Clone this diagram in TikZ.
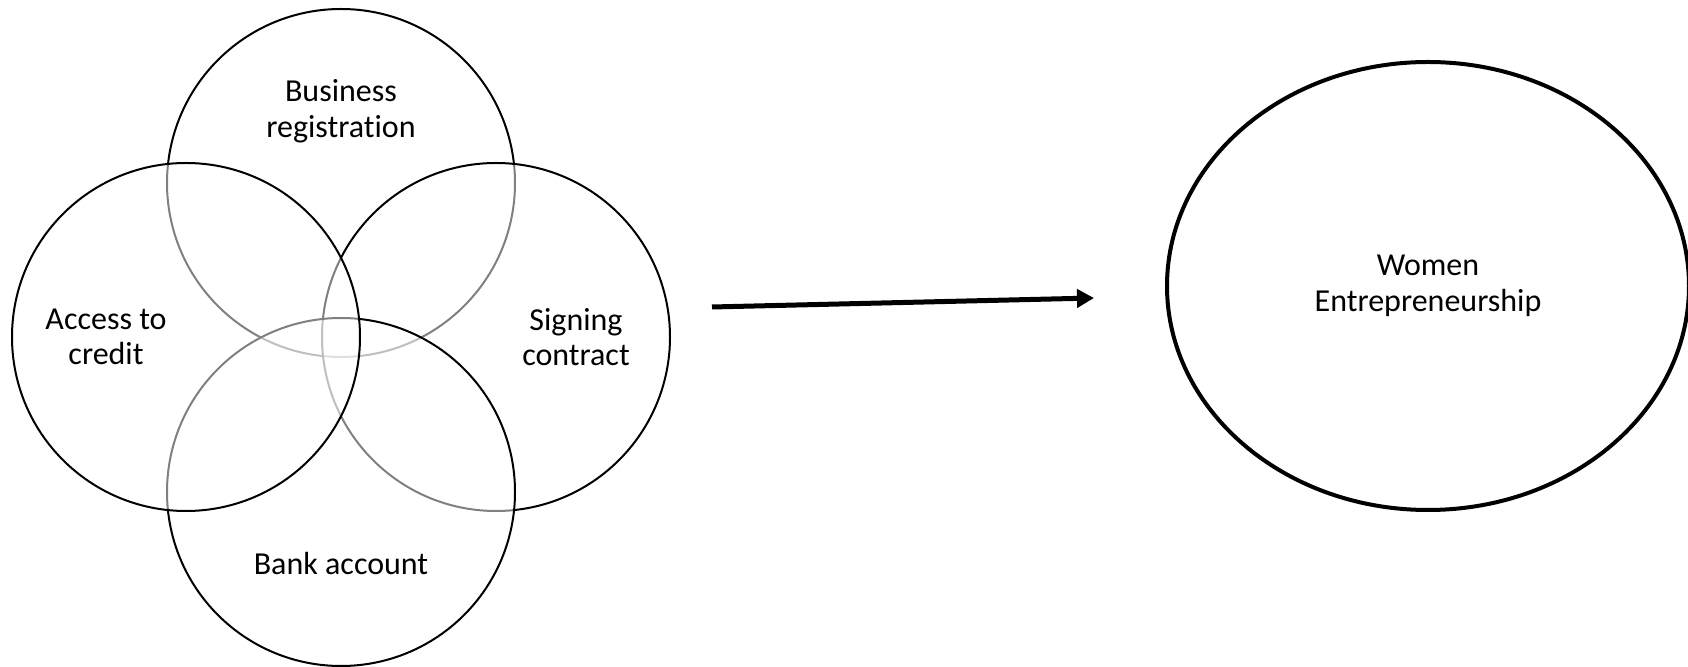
\documentclass[tikz,border=0pt]{standalone}
\usepackage{fontspec}
\setmainfont{Carlito}[Ligatures={NoCommon}]
\usetikzlibrary{shapes.geometric,arrows.meta}

\tikzset{
  venn/.style={circle, draw, line width=1pt, fill=white, fill opacity=0.5, inner sep=0pt, minimum size=174pt},
  lbl/.style={align=center, font=\fontsize{16}{17.75}\selectfont}
}

\begin{document}
\begin{tikzpicture}[x=0.5pt,y=-0.5pt]
\useasboundingbox (0,0) rectangle (1688,667);
% the four circles, later ones fade the lines below them
\node[venn] (business) at (341,183) {};
\node[venn] (signing) at (496,337) {};
\node[venn] (bank) at (341,492) {};
\node[venn] (credit) at (186,337) {};
\node[lbl] (businesslbl) at (341,111) {Business\\registration};
\node[lbl] (signinglbl) at (576,337) {Signing\\contract};
\node[lbl] (banklbl) at (341,564) {Bank account};
\node[lbl] (creditlbl) at (106,337) {Access to\\credit};
% outcome
\node[ellipse, draw, line width=2pt, inner sep=0pt, minimum width=261pt, minimum height=224pt, lbl] (women) at (1428,286) {Women\\Entrepreneurship};
\coordinate (from) at (712,307);
\coordinate (to) at (1094,298);
\draw[line width=2.5pt, -{Triangle[length=8.5pt,width=9pt]}] (from) -- (to);
\end{tikzpicture}
\end{document}
